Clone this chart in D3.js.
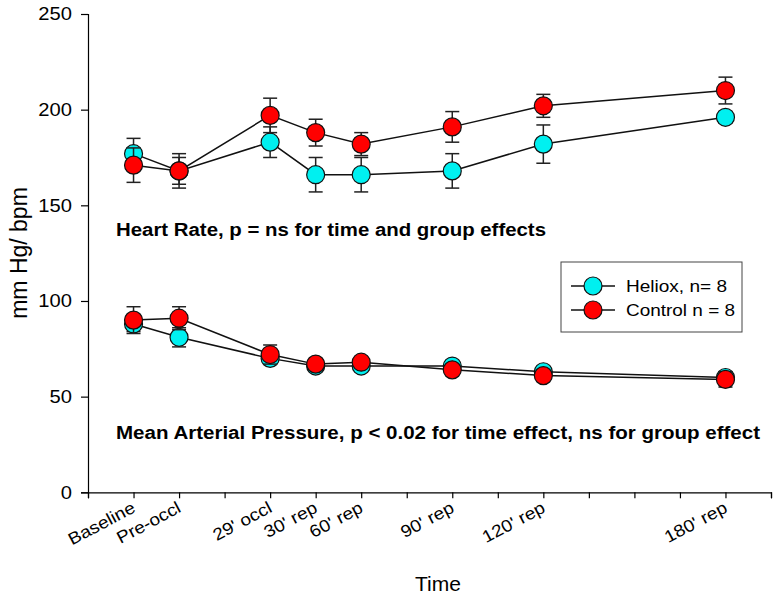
<!DOCTYPE html>
<html>
<head>
<meta charset="utf-8">
<script src="https://cdn.jsdelivr.net/npm/d3@7"></script>
<style>
  html, body { margin: 0; padding: 0; background: #fff; }
  svg { display: block; font-family: "Liberation Sans", Arial, sans-serif; }
</style>
</head>
<body>
<svg id="chart" width="783" height="600"></svg>
<script>
// ---- data ----
const categories = ["Baseline", "Pre-occl", "29' occl", "30' rep", "60' rep", "90' rep", "120' rep", "180' rep"];
const timePos = [1, 2, 4, 5, 6, 8, 10, 14];
const hrHeliox = [177, 168, 183, 166, 166, 168, 182, 196];
const hrHelioxErr = [8, 9, 8, 9, 9, 9, 10, 3];
const hrControl = [171, 168, 197, 188, 182, 191, 202, 210];
const hrControlErr = [9, 7, 9, 7, 6, 8, 6, 7];
const mapHeliox = [88, 81, 70, 66, 66, 66, 63, 60];
const mapHelioxErr = [4, 5, 3, 2, 2, 2, 2, 3];
const mapControl = [90, 91, 72, 67, 68, 64, 61, 59];
const mapControlErr = [7, 6, 5, 2, 2, 2, 2, 4];
const yTicks = [0, 50, 100, 150, 200, 250];
const seriesNames = ["Heliox, n= 8", "Control n = 8"];
const seriesColors = ["#00f0f0", "#ff0000"];
const hrNote = "Heart Rate, p = ns for time and group effects";
const mapNote = "Mean Arterial Pressure, p < 0.02 for time effect, ns for group effect";

const STRETCH = 1.12;
const svg = d3.select("#chart");

const x = d3.scaleLinear().domain([0, 15]).range([88, 771]);
const y = d3.scaleLinear().domain([0, 250]).range([492.3, 14]);

function stretch(sel, f) {
  sel.each(function () {
    const w = this.getComputedTextLength();
    d3.select(this).attr("textLength", w * f).attr("lengthAdjust", "spacingAndGlyphs");
  });
}

// ---- axes ----
const yAxis = svg.append("g")
  .attr("transform", `translate(${x(0)},0)`)
  .call(d3.axisLeft(y).tickValues(yTicks).tickSize(7).tickPadding(9));
yAxis.select(".domain").attr("stroke", "#000").attr("stroke-width", 1.2);
yAxis.selectAll(".tick line").attr("stroke", "#000").attr("stroke-width", 1.2);
yAxis.selectAll(".tick text").attr("font-size", 18).attr("fill", "#000")
  .attr("font-family", "Liberation Sans, Arial, sans-serif");
stretch(yAxis.selectAll(".tick text"), STRETCH);

const xAxis = svg.append("g")
  .attr("transform", `translate(0,${y(0)})`)
  .call(d3.axisBottom(x).tickValues(d3.range(0, 16)).tickSize(6).tickFormat(""));
xAxis.select(".domain").attr("stroke", "#000").attr("stroke-width", 1.2);
xAxis.selectAll(".tick line").attr("stroke", "#000").attr("stroke-width", 1.2);

// category labels (rotated)
const labG = svg.append("g");
const labs = labG.selectAll("text").data(categories).enter().append("text")
  .attr("text-anchor", "end")
  .attr("font-size", 17)
  .attr("fill", "#000")
  .attr("transform", (d, i) => `translate(${x(timePos[i]) + 3},${y(0) + 19}) rotate(-28)`)
  .text(d => d);
stretch(labs, STRETCH);

// axis titles
svg.append("text")
  .attr("x", 438).attr("y", 591)
  .attr("text-anchor", "middle")
  .attr("font-size", 21)
  .text("Time");
svg.append("text")
  .attr("transform", `translate(27,253) rotate(-90)`)
  .attr("text-anchor", "middle")
  .attr("font-size", 23)
  .text("mm Hg/ bpm");

// ---- series ----
const line = d3.line().x(d => x(d.t)).y(d => y(d.v));
function build(vals, errs) {
  return vals.map((v, i) => ({ t: timePos[i], v: v, e: errs[i] }));
}
const groups = [
  [build(hrHeliox, hrHelioxErr), build(mapHeliox, mapHelioxErr)],
  [build(hrControl, hrControlErr), build(mapControl, mapControlErr)]
];

groups.forEach((sets, si) => {
  const g = svg.append("g");
  sets.forEach(data => {
    g.append("path").datum(data).attr("d", line)
      .attr("fill", "none").attr("stroke", "#111").attr("stroke-width", 1.5);
  });
  sets.forEach(data => {
    const eb = g.append("g").selectAll("g").data(data).enter().append("g");
    eb.append("line")
      .attr("x1", d => x(d.t)).attr("x2", d => x(d.t))
      .attr("y1", d => y(d.v - d.e)).attr("y2", d => y(d.v + d.e))
      .attr("stroke", "#222").attr("stroke-width", 1.5);
    [1, -1].forEach(s => {
      eb.append("line")
        .attr("x1", d => x(d.t) - 7).attr("x2", d => x(d.t) + 7)
        .attr("y1", d => y(d.v + s * d.e)).attr("y2", d => y(d.v + s * d.e))
        .attr("stroke", "#222").attr("stroke-width", 1.5);
    });
  });
  sets.forEach(data => {
    g.append("g").selectAll("circle").data(data).enter().append("circle")
      .attr("cx", d => x(d.t)).attr("cy", d => y(d.v)).attr("r", 9)
      .attr("fill", seriesColors[si]).attr("stroke", "#111").attr("stroke-width", 1.2);
  });
});

// ---- annotations ----
svg.append("text").attr("x", 116).attr("y", 236)
  .attr("font-size", 17.5).attr("font-weight", "bold")
  .attr("textLength", 430).attr("lengthAdjust", "spacingAndGlyphs").text(hrNote);
svg.append("text").attr("x", 116).attr("y", 439)
  .attr("font-size", 17.5).attr("font-weight", "bold")
  .attr("textLength", 644).attr("lengthAdjust", "spacingAndGlyphs").text(mapNote);

// ---- legend ----
const leg = svg.append("g");
leg.append("rect").attr("x", 561).attr("y", 262).attr("width", 181).attr("height", 70)
  .attr("fill", "#fff").attr("stroke", "#444").attr("stroke-width", 1);
const legRowY = d3.scalePoint().domain(seriesNames).range([286, 310]);
seriesNames.forEach((name, i) => {
  const yy = legRowY(name);
  leg.append("line").attr("x1", 571).attr("x2", 615).attr("y1", yy).attr("y2", yy)
    .attr("stroke", "#111").attr("stroke-width", 1.5);
  leg.append("circle").attr("cx", 593).attr("cy", yy).attr("r", 9)
    .attr("fill", seriesColors[i]).attr("stroke", "#111").attr("stroke-width", 1.2);
  leg.append("text").attr("x", 626).attr("y", yy + 6)
    .attr("font-size", 16.5).attr("textLength", name.startsWith("Heliox") ? 101 : 109)
    .attr("lengthAdjust", "spacingAndGlyphs").text(name);
});
</script>
</body>
</html>
